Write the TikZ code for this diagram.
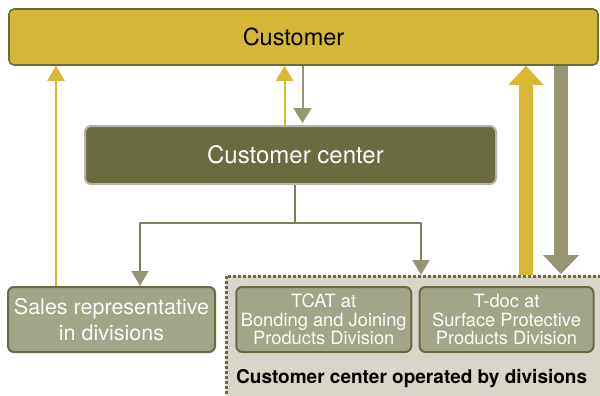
\documentclass[tikz,border=0pt]{standalone}
\usepackage{fontspec}
\setmainfont{TeX Gyre Heros}
\usetikzlibrary{arrows.meta,positioning}

\definecolor{custgold}{HTML}{D5B636}
\definecolor{olivedark}{HTML}{6B6B40}
\definecolor{olivemid}{HTML}{A3A588}
\definecolor{edgegray}{HTML}{B8B2A8}
\definecolor{areabg}{HTML}{DAD5CA}
\definecolor{arrowgold}{HTML}{D9B833}
\definecolor{arrowgray}{HTML}{959473}
\definecolor{treeline}{HTML}{7E7E58}

\begin{document}
\begin{tikzpicture}[
  x=1pt, y=-1pt, % pixel size, y downward
  line join=round,
  custbox/.style={draw=olivedark, fill=custgold, line width=1.6pt, rounded corners=5pt,
    minimum width=589pt, minimum height=56pt, inner sep=0pt, font=\fontsize{23.5}{26}\selectfont},
  centerbox/.style={draw=edgegray, fill=olivedark, line width=2pt, rounded corners=6pt, text=white,
    minimum width=411pt, minimum height=58pt, inner sep=0pt, font=\fontsize{24}{26}\selectfont},
  divbox/.style={draw=olivedark, fill=olivemid, line width=2pt, rounded corners=6pt, text=white!96!olivemid,
    minimum height=65pt, inner sep=0pt, align=center},
  thinup/.style={draw=arrowgold, line width=2pt, -{Triangle[width=17pt,length=15pt]}},
  thindown/.style={draw=arrowgray, line width=2pt, -{Triangle[width=18pt,length=15pt]}},
  treeln/.style={draw=treeline, line width=1.4pt},
  treehead/.style={treeln, -{Triangle[width=17pt,length=15pt,fill=arrowgray,color=arrowgray]}},
  thickup/.style={draw=arrowgold, line width=14pt, -{Triangle[width=34pt,length=19pt]}},
  thickdown/.style={draw=arrowgray, line width=14pt, -{Triangle[width=35pt,length=19pt]}}
]
  \useasboundingbox (0,0) rectangle (600,396);
  \fill[white] (0,0) rectangle (600,396);

  % ---- boxes ----
  \node[custbox] (customer) at (303.5,37) {Customer\hspace*{20pt}};
  \node[centerbox] (center) at (290.5,155) {\hspace*{10pt}Customer center};

  % area operated by divisions (runs off the page)
  \node[draw=olivedark, fill=areabg, line width=2.6pt, dash pattern=on 3pt off 2pt,
    minimum width=390pt, minimum height=140pt, anchor=north west, inner sep=0pt] (divarea) at (225,275) {};

  \node[divbox, minimum width=207pt, font=\fontsize{21.5}{26}\selectfont] (sales) at (111.5,319.5)
    {Sales representative\\in divisions};
  \node[divbox, minimum width=175pt, font=\fontsize{18.3}{18.8}\selectfont] (tcat) at (323.75,319.5)
    {TCAT at\\Bonding and Joining\\Products Division};
  \node[divbox, minimum width=174pt, font=\fontsize{18.3}{18.8}\selectfont] (tdoc) at (506.5,319.5)
    {T-doc at\\Surface Protective\\Products Division};
  \node[anchor=west, inner sep=0pt, font=\bfseries\fontsize{19}{20}\selectfont] (arealabel) at (236,379)
    {Customer center operated by divisions};

  % ---- x positions of the connectors ----
  \coordinate (xsales) at (56,0);
  \coordinate (xcup) at (284.5,0);
  \coordinate (xcdown) at (302.5,0);
  \coordinate (xtree) at (295,0);
  \coordinate (xleft) at (140,0);
  \coordinate (xright) at (421,0);
  \coordinate (xbigup) at (526,0);
  \coordinate (xbigdown) at (561,0);
  \coordinate (split) at (295,223);

  % ---- thin arrows ----
  \draw[thinup] (xsales |- sales.north) -- (xsales |- customer.south);
  \draw[thinup] (xcup |- center.north) -- (xcup |- customer.south);
  \draw[thindown, shorten >=2pt] (xcdown |- customer.south) -- (xcdown |- center.north);

  % ---- tree from customer center ----
  \draw[treeln] (xtree |- center.south) -- (split);
  \draw[treehead] (split) -| (xleft |- sales.north);
  \draw[treehead] (split) -| (xright |- divarea.north);

  % ---- thick arrows ----
  \draw[thickup] (xbigup |- divarea.north) -- (xbigup |- customer.south);
  \draw[thickdown, shorten >=1pt] (xbigdown |- customer.south) -- (xbigdown |- divarea.north);
\end{tikzpicture}
\end{document}
